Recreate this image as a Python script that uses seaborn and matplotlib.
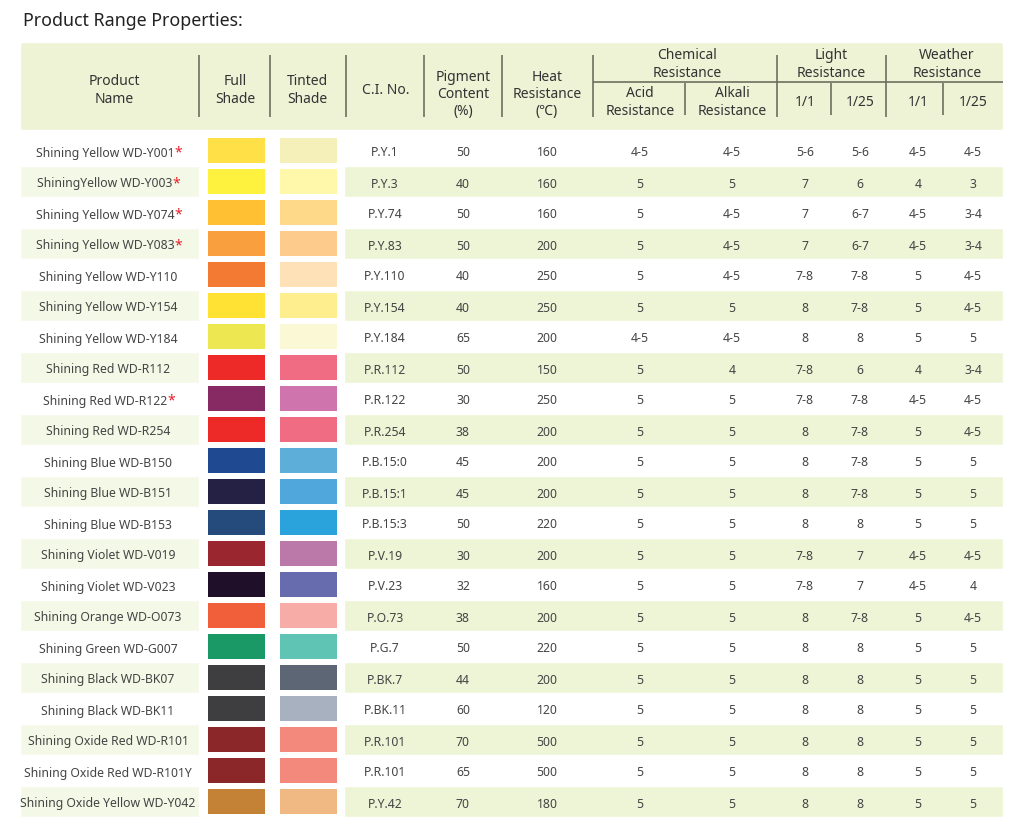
import numpy as np
import pandas as pd
import matplotlib
matplotlib.use("Agg")
import matplotlib.pyplot as plt
from matplotlib.colors import ListedColormap
import seaborn as sns

names = ["Shining Yellow WD-Y001", "ShiningYellow WD-Y003", "Shining Yellow WD-Y074",
         "Shining Yellow WD-Y083", "Shining Yellow WD-Y110", "Shining Yellow WD-Y154",
         "Shining Yellow WD-Y184", "Shining Red WD-R112", "Shining Red WD-R122",
         "Shining Red WD-R254", "Shining Blue WD-B150", "Shining Blue WD-B151",
         "Shining Blue WD-B153", "Shining Violet WD-V019", "Shining Violet WD-V023",
         "Shining Orange WD-O073", "Shining Green WD-G007", "Shining Black WD-BK07",
         "Shining Black WD-BK11", "Shining Oxide Red WD-R101", "Shining Oxide Red WD-R101Y",
         "Shining Oxide Yellow WD-Y042"]
starred = ["Shining Yellow WD-Y001", "ShiningYellow WD-Y003", "Shining Yellow WD-Y074",
           "Shining Yellow WD-Y083", "Shining Red WD-R122"]
full_shade = ["#FFE147", "#FFF23F", "#FFC034", "#F99F3E", "#F27A33", "#FFE233", "#EDE852",
              "#EE2A29", "#872A64", "#EE2A29", "#1F4A91", "#252145", "#254B7D", "#9A2630",
              "#200F29", "#F05E3A", "#1A9866", "#3E3E40", "#3E3E40", "#8B2729", "#8B2729",
              "#C38236"]
tinted_shade = ["#F5EFB9", "#FFF8AB", "#FFD98A", "#FDCC8C", "#FEE1B6", "#FFEE8E", "#FAF8D5",
                "#F06C83", "#D074AE", "#F06C83", "#5DAED8", "#50A7DC", "#2AA3DC", "#BB79AA",
                "#676CAF", "#F7ACA7", "#5FC4B4", "#5D6674", "#A7B1C0", "#F3887C", "#F3887C",
                "#F0B882"]
ci_no = ["P.Y.1", "P.Y.3", "P.Y.74", "P.Y.83", "P.Y.110", "P.Y.154", "P.Y.184", "P.R.112",
         "P.R.122", "P.R.254", "P.B.15:0", "P.B.15:1", "P.B.15:3", "P.V.19", "P.V.23",
         "P.O.73", "P.G.7", "P.BK.7", "P.BK.11", "P.R.101", "P.R.101", "P.Y.42"]
pigment = [50, 40, 50, 50, 40, 40, 65, 50, 30, 38, 45, 45, 50, 30, 32, 38, 50, 44, 60, 70, 65, 70]
heat = [160, 160, 160, 200, 250, 250, 200, 150, 250, 200, 200, 200, 220, 200, 160, 200, 220,
        200, 120, 500, 500, 180]
acid = ["4-5", "5", "5", "5", "5", "5", "4-5", "5", "5", "5", "5", "5", "5", "5", "5", "5",
        "5", "5", "5", "5", "5", "5"]
alkali = ["4-5", "5", "4-5", "4-5", "4-5", "5", "4-5", "4", "5", "5", "5", "5", "5", "5", "5",
          "5", "5", "5", "5", "5", "5", "5"]
light_1_1 = ["5-6", "7", "7", "7", "7-8", "8", "8", "7-8", "7-8", "8", "8", "8", "8", "7-8",
             "7-8", "8", "8", "8", "8", "8", "8", "8"]
light_1_25 = ["5-6", "6", "6-7", "6-7", "7-8", "7-8", "8", "6", "7-8", "7-8", "7-8", "7-8", "8",
              "7", "7", "7-8", "8", "8", "8", "8", "8", "8"]
weather_1_1 = ["4-5", "4", "4-5", "4-5", "5", "5", "5", "4", "4-5", "5", "5", "5", "5", "4-5",
               "4-5", "5", "5", "5", "5", "5", "5", "5"]
weather_1_25 = ["4-5", "3", "3-4", "3-4", "4-5", "4-5", "5", "3-4", "4-5", "4-5", "5", "5", "5",
                "4-5", "4", "4-5", "5", "5", "5", "5", "5", "5"]

df = pd.DataFrame({"ci": ci_no, "pigment": pigment, "heat": heat, "acid": acid,
                   "alkali": alkali, "l11": light_1_1, "l125": light_1_25,
                   "w11": weather_1_1, "w125": weather_1_25})

sns.set_theme(style="white")
plt.rcParams["font.family"] = ["Noto Sans", "DejaVu Sans"]

W, H = 1027, 827
fig = plt.figure(figsize=(W / 100, H / 100), dpi=100)
ax = fig.add_axes([0, 0, 1, 1])
ax.set_xlim(0, W)
ax.set_ylim(H, 0)
ax.axis("off")

HEAD_BG = "#EEF3D6"
STRIPE = "#EEF4D6"
NAME_STRIPE = "#F4F8E7"
LINE = "#6E6E5E"
TXT = "#444444"

row_top, row_h = 135, 31
n = len(names)
yc = row_top + row_h * (np.arange(n) + 0.5)
odd = np.arange(n) % 2 == 1

ax.text(23, 21, "Product Range Properties:", fontsize=12.8, fontweight="semibold",
        color="#222222", va="center", ha="left")

# header band
ax.barh(86, 983, left=20, height=88, color=HEAD_BG)
# stripes
ax.barh(yc[odd], 179, left=20, height=row_h, color=NAME_STRIPE)
ax.barh(yc[odd], 659, left=344, height=row_h, color=STRIPE)

# header separators
ax.vlines([199, 270, 346, 424, 502, 593, 777, 886], 55, 117, color=LINE, lw=1.2)
ax.vlines([685, 831, 943], 83, 115, color=LINE, lw=1.2)
ax.hlines(82, 593, 1003, color=LINE, lw=1.2)

hkw = dict(fontsize=10, color="#333333", ha="center", va="center", linespacing=1.2)
dy = 2.5
ax.text(114, 88 + dy, "Product\nName", **hkw)
ax.text(235, 88 + dy, "Full\nShade", **hkw)
ax.text(307, 88 + dy, "Tinted\nShade", **hkw)
ax.text(386, 88 + dy, "C.I. No.", **hkw)
ax.text(463, 92 + dy, "Pigment\nContent\n(%)", **hkw)
ax.text(547, 92 + dy, "Heat\nResistance\n(℃)", **hkw)
ax.text(687, 64.5, "Chemical\nResistance", **hkw)
ax.text(640, 100 + dy, "Acid\nResistance", **hkw)
ax.text(732, 100 + dy, "Alkali\nResistance", **hkw)
ax.text(831, 64.5, "Light\nResistance", **hkw)
ax.text(947, 64.5, "Weather\nResistance", **hkw)
for x in (805, 918):
    ax.text(x, 100 + dy, "1/1", **hkw)
for x in (860, 973):
    ax.text(x, 100 + dy, "1/25", **hkw)

dkw = dict(fontsize=8.8, color=TXT, ha="center", va="center")
for i, name in enumerate(names):
    if name in starred:
        t = ax.text(105, yc[i] + dy, name, **dkw)
        ax.annotate("*", xy=(1, 0.5), xycoords=t, ha="left", va="center",
                    fontsize=10, color="#E8202A", fontweight="bold")
    else:
        ax.text(108, yc[i] + dy, name, **dkw)

cols = [("ci", 385), ("pigment", 463), ("heat", 547), ("acid", 640), ("alkali", 732),
        ("l11", 805), ("l125", 860), ("w11", 918), ("w125", 973)]
for col, x in cols:
    for i, v in enumerate(df[col]):
        ax.text(x, yc[i] + dy, str(v), **dkw)

# colour swatches as one-column heatmaps
def swatch(x0, x1, colors):
    sax = fig.add_axes([x0 / W, 1 - (row_top + row_h * n) / H, (x1 - x0) / W, row_h * n / H])
    sns.heatmap(np.arange(n).reshape(-1, 1), ax=sax, cmap=ListedColormap(colors),
                vmin=-0.5, vmax=n - 0.5, cbar=False, linewidths=2.9, linecolor="white",
                xticklabels=False, yticklabels=False)
    sax.axis("off")

swatch(205, 268, full_shade)
swatch(277, 340, tinted_shade)

fig.savefig("out.png", dpi=100)
